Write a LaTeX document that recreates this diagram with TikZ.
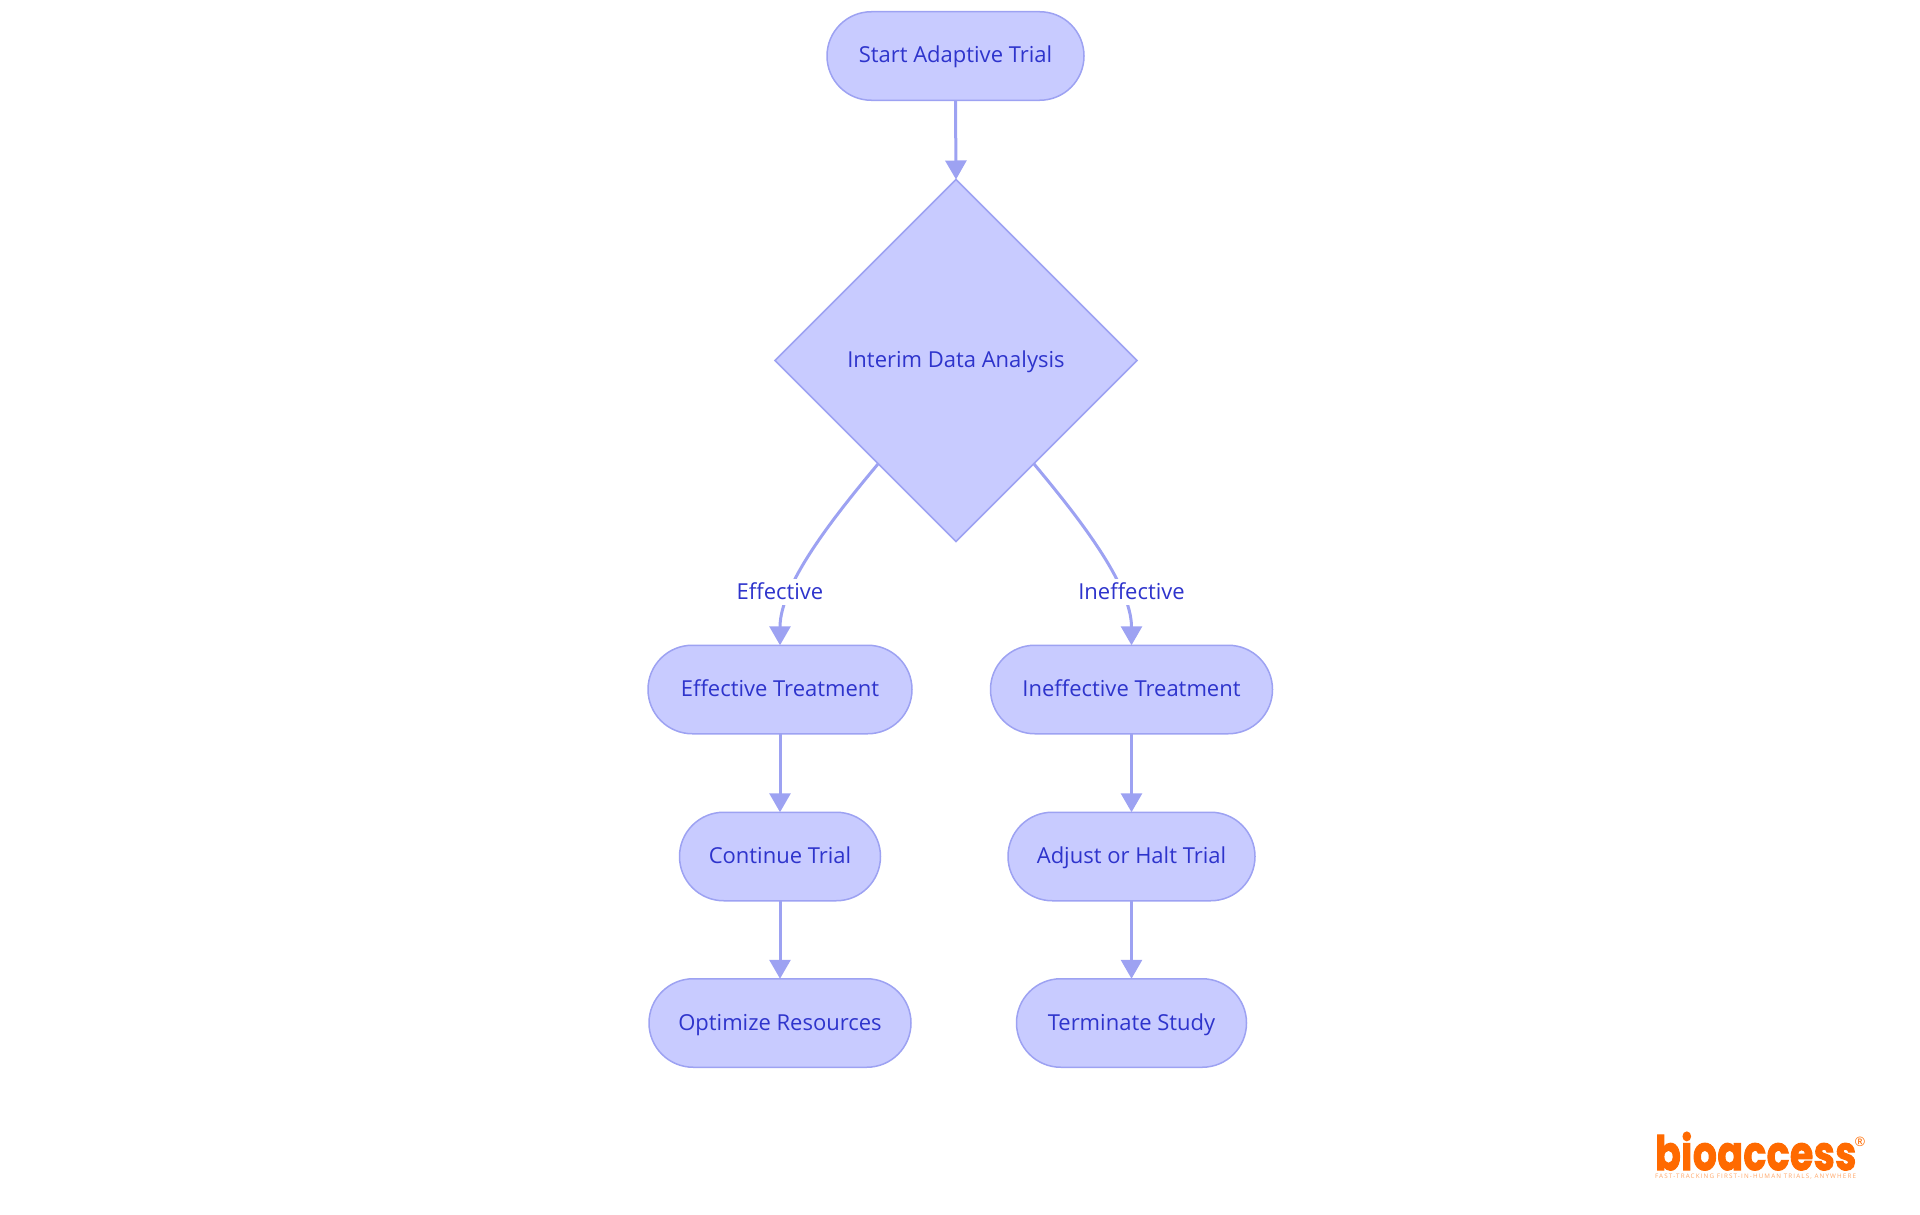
\documentclass[tikz,border=0pt]{standalone}
\usepackage{fontspec}
\usepackage{graphicx}
\setmainfont{Open Sans}
\newfontfamily\logofont[FakeBold=2.4,LetterSpace=1.5]{Poppins Bold}
\newfontfamily\tagfont[LetterSpace=18]{Open Sans}
\usetikzlibrary{shapes.misc,shapes.geometric,arrows.meta}
\definecolor{nodefill}{HTML}{C8CBFF}
\definecolor{nodeline}{HTML}{9DA2F2}
\definecolor{nodetext}{HTML}{2E34CC}
\definecolor{logoorange}{HTML}{FF6A00}
\tikzset{
  labelfont/.style={font=\fontsize{22}{26}\selectfont,text height=19pt,text depth=5pt},
  base/.style={draw=nodeline,fill=nodefill,text=nodetext,line width=1.5pt,inner sep=0pt,outer sep=0pt,labelfont},
  pill/.style={base,rounded rectangle,rounded rectangle arc length=180,minimum height=88.5pt},
  decision/.style={base,diamond,shape aspect=1,minimum width=362pt,minimum height=362pt},
  flow/.style={draw=nodeline,line width=3pt,-{Triangle[width=21pt,length=19pt,fill=nodeline]}},
  edgelabel/.style={fill=white,text=nodetext,inner sep=1pt,labelfont},
}
\begin{document}
\begin{tikzpicture}[x=1pt,y=-1pt]
\useasboundingbox (0,0) rectangle (1920,1215);
\node[pill,minimum width=257pt] (start) at (955.5,56) {Start Adaptive Trial};
\node[decision] (dia) at (956,360.5) {Interim Data Analysis};
\node[pill,minimum width=264pt] (eff) at (780,689.5) {Effective Treatment};
\node[pill,minimum width=282pt] (ineff) at (1131.5,689.5) {Ineffective Treatment};
\node[pill,minimum width=201pt] (cont) at (780,856.5) {Continue Trial};
\node[pill,minimum width=247pt] (adj) at (1131.5,856.5) {Adjust or Halt Trial};
\node[pill,minimum width=262pt] (opt) at (780,1023) {Optimize Resources};
\node[pill,minimum width=230pt] (term) at (1131.5,1023) {Terminate Study};
\draw[flow] (start.south) -- (dia.north);
\draw[flow] (dia.-127) .. controls +(-40,48) and +(0,-62) .. (eff.north);
\draw[flow] (dia.-53) .. controls +(40,48) and +(0,-62) .. (ineff.north);
\node[edgelabel] (lefflabel) at (780,592) {Effective};
\node[edgelabel] (lineff) at (1131.5,592) {Ineffective};
\draw[flow] (eff.south) -- (cont.north);
\draw[flow] (cont.south) -- (opt.north);
\draw[flow] (ineff.south) -- (adj.north);
\draw[flow] (adj.south) -- (term.north);
\node[anchor=base west,inner sep=0pt,text=logoorange] (logo) at (1655,1170) {\resizebox{201pt}{38pt}{\logofont bioaccess}};
\node[inner sep=0pt,text=logoorange,font=\fontsize{13}{13}\selectfont] (reg) at (1860,1142) {\textregistered};
\node[inner sep=0pt,text=logoorange!60] (tag) at (1755.5,1177) {\resizebox{201pt}{!}{\tagfont\fontsize{7}{8}\selectfont FAST-TRACKING FIRST-IN-HUMAN TRIALS, ANYWHERE}};
\end{tikzpicture}
\end{document}
